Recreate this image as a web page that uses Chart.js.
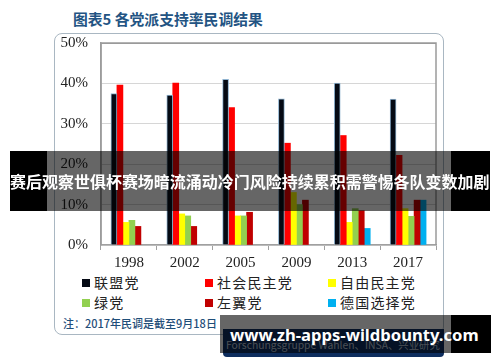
<!DOCTYPE html>
<html>
<head>
<meta charset="utf-8">
<script src="https://cdn.jsdelivr.net/npm/chart.js@4.4.1/dist/chart.umd.min.js"></script>
<style>
  body { margin: 0; background: #fff; width: 500px; height: 362px; overflow: hidden; position: relative; font-family: "Noto Sans CJK SC", sans-serif; }
  #title { position: absolute; left: 73px; top: 8px; font-size: 15.5px; font-weight: 700; color: #235483; white-space: nowrap; }
  #box { position: absolute; left: 54px; top: 33px; width: 388px; height: 300px; border: 1.5px solid #a9b7c2; border-radius: 8px; }
  #wrap { position: absolute; left: 0; top: 0; width: 500px; height: 270px; }
  .lg { position: absolute; font-size: 14px; letter-spacing: 1.2px; color: #222; white-space: nowrap; line-height: 18px; }
  .lg i { display: inline-block; width: 8px; height: 8px; margin-right: 4px; vertical-align: 1px; }
  #note { position: absolute; left: 63px; top: 315px; font-size: 11px; font-weight: 500; color: #1f4e79; white-space: nowrap; }
  #src { position: absolute; left: 223px; top: 329px; width: 221px; height: 28px; background: #0d2d5e; border-radius: 0 0 4px 4px; }
  #src span { position: absolute; left: 3px; top: 8px; font-size: 12px; color: #b9c4d3; white-space: nowrap; }
  #banner { position: absolute; left: 10px; top: 151px; width: 480px; height: 60px;
    background: linear-gradient(to right, #000 0, #000 37px, rgba(0,0,0,0.6) 37px, rgba(0,0,0,0.6) 441px, #000 441px); }
  #banner span { position: absolute; left: 0; top: 50%; transform: translateY(-50%); color: #fff; font-weight: 700; font-size: 15.5px; white-space: nowrap; }
  #wm { position: absolute; left: 220px; top: 315px; width: 271px; height: 38px;
    background: linear-gradient(to right, rgba(0,0,0,0.6) 0, rgba(0,0,0,0.6) 231px, #000 231px); }
  #wm span { position: absolute; left: 10px; top: 50%; transform: translateY(-50%); color: #fff; font-weight: 700; font-size: 20px; font-family: "Noto Sans", sans-serif; white-space: nowrap; }
</style>
</head>
<body>
<div id="title">图表5 各党派支持率民调结果</div>
<div id="box"></div>
<div id="wrap"><canvas id="c"></canvas></div>
<div id="legend"></div>
<div id="note">注：2017年民调是截至9月18日</div>
<div id="src"><span>Forschungsgruppe Wahlen、INSA、兴业研究</span></div>
<div id="banner"><span>赛后观察世俱杯赛场暗流涌动冷门风险持续累积需警惕各队变数加剧</span></div>
<div id="wm"><span>www.zh-apps-wildbounty.com</span></div>
<script>
const years = ["1998", "2002", "2005", "2009", "2013", "2017"];
const parties = ["联盟党", "社会民主党", "自由民主党", "绿党", "左翼党", "德国选择党"];
const colors = ["#050a14", "#ff0000", "#ffff00", "#92d050", "#c00000", "#00b0f0"];

const cdu   = [37.5, 37.1, 41.0, 36.2, 40.1, 36.1];
const spd   = [39.6, 40.1, 34.0, 25.2, 27.1, 22.2];
const fdp   = [5.6, 7.7, 7.2, 13.0, 5.6, 9.0];
const green = [6.1, 7.2, 7.2, 10.0, 9.0, 7.1];
const left  = [4.6, 4.6, 8.1, 11.1, 8.5, 11.1];
const afd   = [null, null, null, null, 4.1, 11.1];
const series = [cdu, spd, fdp, green, left, afd];

// fit the overlay texts to the widths seen in the picture
function fit(el, w) {
  let s = parseFloat(getComputedStyle(el).fontSize);
  for (let i = 0; i < 40; i++) {
    const cw = el.getBoundingClientRect().width;
    if (Math.abs(cw - w) < 1) break;
    s = s * w / cw;
    el.style.fontSize = s + "px";
  }
}
fit(document.querySelector("#banner span"), 480);
fit(document.querySelector("#wm span"), 249);
fit(document.querySelector("#src span"), 214);
fit(document.querySelector("#title"), 190);

// legend, two rows of three
const legend = document.getElementById("legend");
const colX = [82, 205, 328];
const rowY = [273, 293];
parties.forEach((p, i) => {
  const d = document.createElement("div");
  d.className = "lg";
  d.style.left = colX[i % 3] + "px";
  d.style.top = rowY[Math.floor(i / 3)] + "px";
  d.innerHTML = '<i style="background:' + colors[i] + '"></i>' + p;
  legend.appendChild(d);
});

const frame = {
  id: "frame",
  afterDraw(chart) {
    const a = chart.chartArea, ctx = chart.ctx;
    ctx.save();
    ctx.strokeStyle = "#9a9a9a";
    ctx.lineWidth = 1.5;
    ctx.beginPath();
    ctx.moveTo(a.left, a.bottom);
    ctx.lineTo(a.left, a.top);
    ctx.lineTo(a.right, a.top);
    ctx.lineTo(a.right, a.bottom);
    ctx.stroke();
    ctx.restore();
  }
};

new Chart(document.getElementById("c"), {
  type: "bar",
  data: {
    labels: years,
    datasets: parties.map((p, i) => ({
      label: p,
      data: series[i],
      backgroundColor: colors[i],
      borderColor: i === 0 ? "#8fb3d0" : colors[i],
      borderWidth: i === 0 ? 1 : 0,
      barThickness: 6,
      categoryPercentage: 0.753
    }))
  },
  options: {
    responsive: true,
    maintainAspectRatio: false,
    animation: false,
    layout: { padding: { left: 55, top: 43, right: 64, bottom: 0 } },
    plugins: { legend: { display: false }, tooltip: { enabled: false } },
    scales: {
      x: {
        grid: { drawOnChartArea: false, drawTicks: true, tickLength: 5, color: "#a0a0a0", offset: true },
        border: { color: "#a0a0a0", width: 1.5 },
        ticks: { font: { family: "Liberation Serif", size: 15 }, color: "#222", padding: 4 },
        afterFit(s) { s.height = 25; }
      },
      y: {
        min: 0, max: 50,
        ticks: { stepSize: 10, callback: v => v + "%", font: { family: "Liberation Serif", size: 15 }, color: "#222", padding: 13 },
        grid: { drawTicks: false, color: ctx => (ctx.tick && ctx.tick.value === 50) ? "#9a9a9a" : "#d6d6d6" },
        border: { color: "#a0a0a0", width: 1.5 },
        afterFit(s) { s.width = 46; }
      }
    }
  },
  plugins: [frame]
});
</script>
</body>
</html>
